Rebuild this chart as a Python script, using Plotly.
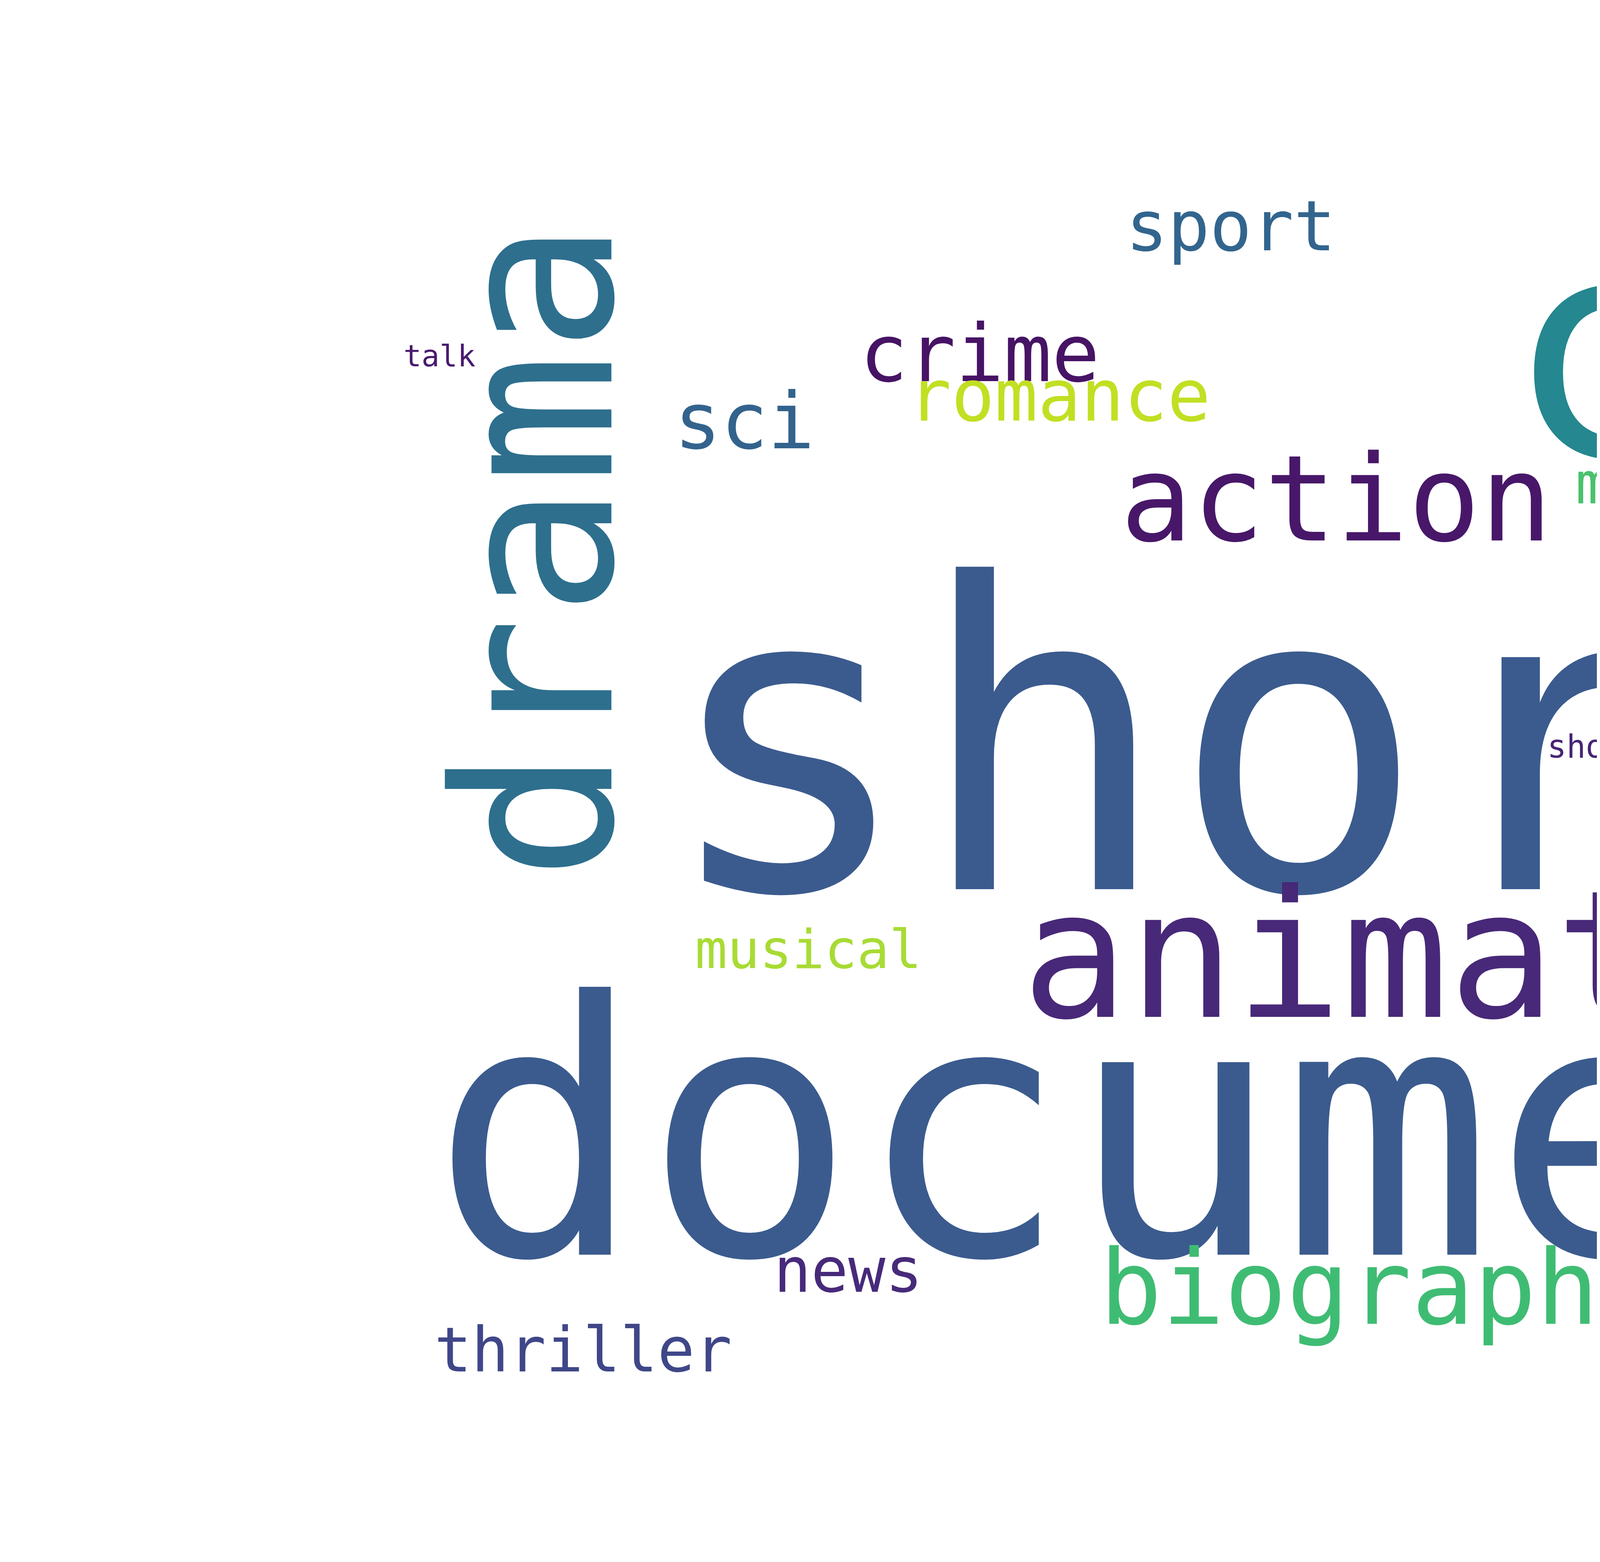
import plotly.graph_objects as go

# word cloud: words, centre positions (in 1568x784 canvas units), font em size, rotation, colour
words = ["short", "documentary", "comedy", "animation", "drama", "adventure", "family",
         "action", "music", "biography", "horror", "crime", "romance", "sport", "sci",
         "fi", "mystery", "history", "fantasy", "musical", "thriller", "news", "war",
         "tv", "reality", "show", "talk", "game", "western"]
x_pos = [650, 801, 1030, 752, 267, 1157, 1103, 669, 1247, 691, 1355, 490, 530, 616, 372,
         1185, 850, 1168, 1056, 404, 291, 424, 1259, 1190, 1007, 794, 219, 1273, 1382]
y_pos = [371, 567, 174, 478, 275, 327, 380, 249, 493, 645, 238, 176, 197, 112, 210,
         261, 241, 432, 653, 475, 676, 636, 644, 663, 676, 373, 177, 265, 596]
em = [213, 177, 153, 89, 110, 59.5, 56, 60, 50, 52, 44, 40, 36, 35, 39,
      37, 29, 37, 39, 27, 31, 31, 21, 17.5, 19, 16, 15, 9, 9]
angle = [0, 0, 0, 0, -90, 0, 0, 0, 0, 0, -90, 0, 0, 0, 0,
         0, 0, 0, 0, 0, 0, 0, 0, 0, 0, 0, 0, 0, -90]
colors = ["#3b5b8e", "#3b5b8e", "#25878f", "#482878", "#2e6f8e", "#46085c", "#472d7b",
          "#481769", "#31688e", "#3fbc73", "#2f6c8e", "#471365", "#c2df23", "#32658e",
          "#33638d", "#443a83", "#4ac16d", "#a2da37", "#2f6b8e", "#a8db34", "#3f4788",
          "#472a7a", "#44bf70", "#355f8d", "#1f9a8a", "#482475", "#481b6d", "#3e4c8a",
          "#35b779"]

W, H = 1568, 784
scale = 8000 / W

fig = go.Figure()
fig.add_trace(go.Scatter(x=[0, W], y=[0, H], mode="markers",
                         marker=dict(opacity=0), hoverinfo="skip", showlegend=False))

for w, x, y, s, a, c in zip(words, x_pos, y_pos, em, angle, colors):
    fig.add_annotation(x=x, y=y, text=w, showarrow=False, textangle=a,
                       xanchor="center", yanchor="middle",
                       font=dict(family="DejaVu Sans Mono", size=s * scale, color=c))

fig.update_xaxes(range=[0, W], visible=False)
fig.update_yaxes(range=[H, 0], visible=False)
fig.update_layout(width=8000, height=4000, autosize=False,
                  margin=dict(l=0, r=0, t=0, b=0),
                  paper_bgcolor="white", plot_bgcolor="white")

fig.write_html("out.html", include_plotlyjs=True, full_html=True,
               default_width="8000px", default_height="4000px")
